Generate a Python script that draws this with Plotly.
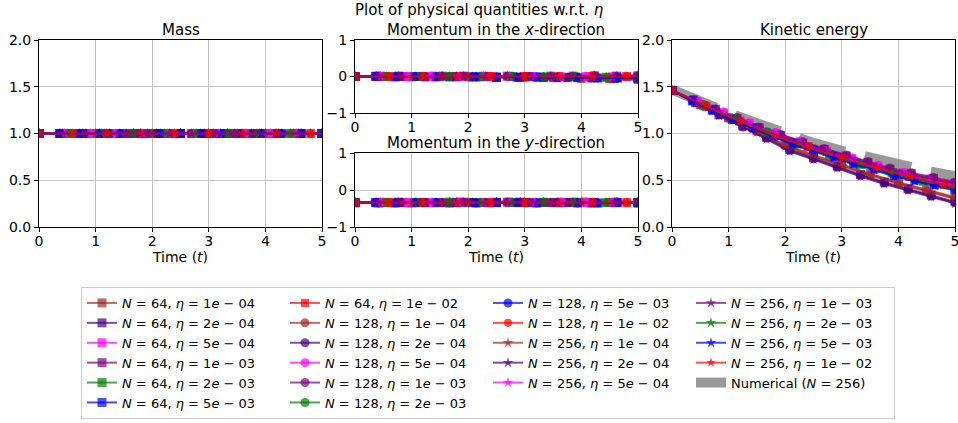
import plotly.graph_objects as go

# ---------------- data ----------------
N_VALUES = [64, 128, 256]
ETA_LABELS = ["1e − 04", "2e − 04", "5e − 04", "1e − 03", "2e − 03", "5e − 03", "1e − 02"]

# time grids (one per eta)
T_E1E4 = [0.0, 0.5, 1.0, 1.5, 2.0, 2.5, 3.0, 3.5, 4.0, 4.5, 5.0]
T_E2E4 = [0.0, 0.42, 0.83, 1.25, 1.67, 2.08, 2.5, 2.92, 3.33, 3.75, 4.17, 4.58, 5.0]
T_E5E4 = [0.0, 0.45, 0.91, 1.36, 1.82, 2.27, 2.73, 3.18, 3.64, 4.09, 4.55, 5.0]
T_E1E3 = [0.0, 0.38, 0.77, 1.15, 1.54, 1.92, 2.31, 2.69, 3.08, 3.46, 3.85, 4.23, 4.62, 5.0]
T_E2E3 = [0.0, 0.56, 1.11, 1.67, 2.22, 2.78, 3.33, 3.89, 4.44, 5.0]
T_E5E3 = [0.0, 0.36, 0.71, 1.07, 1.43, 1.79, 2.14, 2.5, 2.86, 3.21, 3.57, 3.93, 4.29, 4.64, 5.0]
T_E1E2 = [0.0, 0.6, 1.2, 1.8, 2.4, 3.0, 3.6, 4.2, 4.8, 5.0]

# mass (per eta)
MASS_E1E4 = [1.0, 1.0, 1.0, 1.0, 1.0, 1.0, 1.0, 1.0, 1.0, 1.0, 1.0]
MASS_E2E4 = [1.0, 1.0, 1.0, 1.0, 1.0, 1.0, 1.0, 1.0, 1.0, 1.0, 1.0, 1.0, 1.0]
MASS_E5E4 = [1.0, 1.0, 1.0, 1.0, 1.0, 1.0, 1.0, 1.0, 1.0, 1.0, 1.0, 1.0]
MASS_E1E3 = [1.0, 1.0, 1.0, 1.0, 1.0, 1.0, 1.0, 1.0, 1.0, 1.0, 1.0, 1.0, 1.0, 1.0]
MASS_E2E3 = [1.0, 1.0, 1.0, 1.0, 1.0, 1.0, 1.0, 1.0, 1.0, 1.0]
MASS_E5E3 = [1.0, 1.0, 1.0, 1.0, 1.0, 1.0, 1.0, 1.0, 1.0, 1.0, 1.0, 1.0, 1.0, 1.0, 1.0]
MASS_E1E2 = [1.0, 1.0, 1.0, 1.0, 1.0, 1.0, 1.0, 1.0, 1.0, 1.0]

# momentum in x (per eta)
MX_E1E4 = [0.00, 0.00, -0.01, 0.00, -0.01, -0.02, -0.02, -0.03, -0.05, -0.06, -0.08]
MX_E2E4 = [0.00, 0.00, 0.00, -0.01, -0.01, -0.01, -0.02, -0.02, -0.03, -0.03, -0.04, -0.05, -0.05]
MX_E5E4 = [0.00, 0.01, 0.00, 0.01, 0.00, 0.01, 0.00, 0.00, -0.01, 0.00, -0.01, 0.00]
MX_E1E3 = [0.00, 0.01, 0.01, 0.00, 0.01, 0.01, 0.00, 0.01, 0.00, 0.01, 0.01, 0.02, 0.01, 0.02]
MX_E2E3 = [0.00, 0.00, 0.00, 0.00, -0.01, 0.00, -0.01, -0.01, -0.02, -0.02]
MX_E5E3 = [0.00, 0.00, -0.01, 0.00, -0.01, -0.01, -0.01, -0.02, -0.02, -0.02, -0.03, -0.03, -0.04, -0.04, -0.04]
MX_E1E2 = [0.00, 0.00, 0.00, 0.00, 0.00, 0.00, 0.00, 0.00, 0.00, 0.00]

# momentum in y (per eta)
MY_E1E4 = [-0.34, -0.34, -0.35, -0.34, -0.34, -0.33, -0.34, -0.34, -0.33, -0.34, -0.34]
MY_E2E4 = [-0.34, -0.35, -0.34, -0.34, -0.35, -0.34, -0.34, -0.33, -0.34, -0.34, -0.35, -0.34, -0.34]
MY_E5E4 = [-0.34, -0.33, -0.34, -0.34, -0.33, -0.34, -0.33, -0.34, -0.33, -0.33, -0.34, -0.33]
MY_E1E3 = [-0.34, -0.34, -0.33, -0.34, -0.34, -0.33, -0.34, -0.33, -0.34, -0.34, -0.33, -0.34, -0.33, -0.34]
MY_E2E3 = [-0.34, -0.34, -0.34, -0.33, -0.34, -0.34, -0.33, -0.34, -0.34, -0.34]
MY_E5E3 = [-0.34, -0.34, -0.35, -0.34, -0.34, -0.34, -0.35, -0.34, -0.34, -0.35, -0.34, -0.35, -0.35, -0.34, -0.35]
MY_E1E2 = [-0.34, -0.34, -0.34, -0.34, -0.34, -0.34, -0.34, -0.34, -0.34, -0.34]

# kinetic energy (per N and eta)
KE_N64_E1E4 = [1.46, 1.31, 1.17, 1.03, 0.88, 0.77, 0.67, 0.57, 0.48, 0.40, 0.32]
KE_N128_E1E4 = [1.46, 1.31, 1.16, 1.02, 0.87, 0.76, 0.66, 0.56, 0.47, 0.39, 0.31]
KE_N256_E1E4 = [1.46, 1.30, 1.16, 1.01, 0.86, 0.75, 0.65, 0.55, 0.46, 0.38, 0.30]

KE_N64_E2E4 = [1.46, 1.33, 1.20, 1.08, 0.96, 0.83, 0.74, 0.65, 0.56, 0.48, 0.41, 0.34, 0.27]
KE_N128_E2E4 = [1.46, 1.33, 1.20, 1.07, 0.95, 0.82, 0.73, 0.64, 0.55, 0.47, 0.40, 0.33, 0.26]
KE_N256_E2E4 = [1.46, 1.32, 1.19, 1.07, 0.94, 0.81, 0.72, 0.63, 0.54, 0.46, 0.39, 0.32, 0.25]

KE_N64_E5E4 = [1.46, 1.34, 1.22, 1.11, 1.00, 0.91, 0.81, 0.73, 0.65, 0.58, 0.51, 0.46]
KE_N128_E5E4 = [1.46, 1.34, 1.23, 1.11, 1.01, 0.92, 0.82, 0.74, 0.66, 0.58, 0.52, 0.47]
KE_N256_E5E4 = [1.46, 1.34, 1.22, 1.10, 1.00, 0.90, 0.81, 0.72, 0.64, 0.57, 0.50, 0.45]

KE_N64_E1E3 = [1.46, 1.36, 1.26, 1.16, 1.06, 0.98, 0.90, 0.83, 0.76, 0.69, 0.62, 0.57, 0.52, 0.47]
KE_N128_E1E3 = [1.46, 1.36, 1.26, 1.17, 1.07, 0.99, 0.91, 0.84, 0.77, 0.70, 0.63, 0.58, 0.53, 0.48]
KE_N256_E1E3 = [1.46, 1.35, 1.25, 1.15, 1.05, 0.97, 0.89, 0.82, 0.75, 0.68, 0.61, 0.56, 0.51, 0.46]

KE_N64_E2E3 = [1.46, 1.30, 1.15, 1.01, 0.89, 0.77, 0.67, 0.58, 0.49, 0.42]
KE_N128_E2E3 = [1.46, 1.30, 1.16, 1.02, 0.89, 0.78, 0.68, 0.59, 0.50, 0.43]
KE_N256_E2E3 = [1.46, 1.29, 1.15, 1.00, 0.88, 0.77, 0.66, 0.57, 0.49, 0.41]

KE_N64_E5E3 = [1.46, 1.35, 1.25, 1.15, 1.06, 0.97, 0.89, 0.82, 0.75, 0.68, 0.62, 0.55, 0.50, 0.45, 0.40]
KE_N128_E5E3 = [1.46, 1.35, 1.25, 1.15, 1.06, 0.98, 0.90, 0.83, 0.76, 0.69, 0.62, 0.56, 0.51, 0.46, 0.41]
KE_N256_E5E3 = [1.46, 1.35, 1.24, 1.14, 1.05, 0.96, 0.88, 0.81, 0.74, 0.67, 0.61, 0.54, 0.49, 0.44, 0.39]

KE_N64_E1E2 = [1.46, 1.29, 1.13, 0.98, 0.86, 0.74, 0.63, 0.54, 0.46, 0.43]
KE_N128_E1E2 = [1.46, 1.29, 1.13, 0.98, 0.86, 0.74, 0.64, 0.54, 0.46, 0.43]
KE_N256_E1E2 = [1.46, 1.29, 1.13, 0.98, 0.85, 0.74, 0.63, 0.54, 0.45, 0.43]

# numerical reference (N = 256)
T_NUM = [0.0, 0.5, 1.0, 1.5, 2.0, 2.5, 3.0, 3.5, 4.0, 4.5, 5.0]
KE_NUM = [1.47, 1.34, 1.22, 1.11, 1.00, 0.90, 0.815, 0.735, 0.665, 0.60, 0.545]

# ---------------- assembly ----------------
T_BY_ETA = [T_E1E4, T_E2E4, T_E5E4, T_E1E3, T_E2E3, T_E5E3, T_E1E2]
MASS_BY_ETA = [MASS_E1E4, MASS_E2E4, MASS_E5E4, MASS_E1E3, MASS_E2E3, MASS_E5E3, MASS_E1E2]
MX_BY_ETA = [MX_E1E4, MX_E2E4, MX_E5E4, MX_E1E3, MX_E2E3, MX_E5E3, MX_E1E2]
MY_BY_ETA = [MY_E1E4, MY_E2E4, MY_E5E4, MY_E1E3, MY_E2E3, MY_E5E3, MY_E1E2]
KE_BY_N = {
    64: [KE_N64_E1E4, KE_N64_E2E4, KE_N64_E5E4, KE_N64_E1E3, KE_N64_E2E3, KE_N64_E5E3, KE_N64_E1E2],
    128: [KE_N128_E1E4, KE_N128_E2E4, KE_N128_E5E4, KE_N128_E1E3, KE_N128_E2E3, KE_N128_E5E3, KE_N128_E1E2],
    256: [KE_N256_E1E4, KE_N256_E2E4, KE_N256_E5E4, KE_N256_E1E3, KE_N256_E2E3, KE_N256_E5E3, KE_N256_E1E2],
}

ETA_COLORS = [(165, 42, 42), (75, 0, 130), (255, 0, 255), (128, 0, 128),
              (0, 128, 0), (0, 0, 255), (255, 0, 0)]
N_SYMBOLS = {64: "square", 128: "circle", 256: "star"}
N_SIZES = {64: 9, 128: 9, 256: 8}

FONT = "DejaVu Sans"

# subplot domains (paper fractions, margins are zero)
W, H = 958, 423
def xd(a, b):
    return [a / W, b / W]
def yd(top, bottom):
    return [1 - bottom / H, 1 - top / H]

DOM = {
    "mass": (xd(39, 322), yd(40, 227)),
    "mx": (xd(355, 638), yd(40, 113)),
    "my": (xd(355, 638), yd(153, 227)),
    "ke": (xd(672, 955), yd(40, 227)),
}
AX = {"mass": ("x", "y"), "mx": ("x2", "y2"), "my": ("x3", "y3"), "ke": ("x4", "y4")}

fig = go.Figure()

# numerical band first (behind); legend slot: column 4, row 5
fig.add_trace(go.Scatter(
    x=T_NUM, y=KE_NUM, mode="lines", xaxis="x4", yaxis="y4",
    line=dict(color="rgba(128,128,128,0.8)", width=10, dash="48px,20px"),
    name="Numerical (<i>N</i> = 256)", legendrank=19, showlegend=True,
))

idx = 0
for n in N_VALUES:
    for e in range(7):
        r, g, b = ETA_COLORS[e]
        t = T_BY_ETA[e]
        sizes = [N_SIZES[n]] * len(t)
        if e == 6:
            sizes[-1] = 0
        # legend position (matplotlib column-major -> plotly row-major)
        if idx < 6:
            col, row = 0, idx
        elif idx < 12:
            col, row = 1, idx - 6
        elif idx < 17:
            col, row = 2, idx - 12
        else:
            col, row = 3, idx - 17
        rank = row * 4 + col
        name = f"<i>N</i> = {n}, <i>η</i> = {ETA_LABELS[e][0]}<i>e</i> − {ETA_LABELS[e][-2:]}"
        for key, ys in (("mass", MASS_BY_ETA[e]), ("mx", MX_BY_ETA[e]),
                        ("my", MY_BY_ETA[e]), ("ke", KE_BY_N[n][e])):
            xa, ya = AX[key]
            fig.add_trace(go.Scatter(
                x=t, y=ys, mode="lines+markers", xaxis=xa, yaxis=ya,
                line=dict(color=f"rgba({r},{g},{b},0.7)", width=2),
                marker=dict(symbol=N_SYMBOLS[n], size=sizes, color=f"rgb({r},{g},{b})",
                            line=dict(width=0)),
                name=name, legendrank=rank, showlegend=(key == "mass"),
                legendgroup=f"s{idx}",
            ))
        idx += 1

def axis_style(**kw):
    base = dict(showline=True, linecolor="black", linewidth=1, mirror=True,
                ticks="outside", ticklen=4, tickwidth=1, tickcolor="black",
                showgrid=True, gridcolor="#c4c4c4", gridwidth=1, zeroline=False,
                tickfont=dict(family=FONT, size=14, color="black"),
                ticklabeloverflow="allow")
    base.update(kw)
    return base

xtitle = dict(text="Time (<i>t</i>)", font=dict(family=FONT, size=14, color="black"), standoff=0)

layout = dict(
    width=W, height=H, margin=dict(l=0, r=0, t=0, b=0, autoexpand=False),
    paper_bgcolor="white", plot_bgcolor="white",
    font=dict(family=FONT, size=13, color="black"),
    showlegend=True,
    legend=dict(orientation="h", x=81 / W, xanchor="left", y=1 - 287 / H, yanchor="top",
                entrywidth=158, entrywidthmode="pixels",
                bgcolor="white", bordercolor="#cccccc", borderwidth=1,
                font=dict(family=FONT, size=13, color="black"), traceorder="normal"),
)
XS = dict(range=[0, 5], dtick=1, ticklabelstandoff=-3)
layout["xaxis"] = axis_style(domain=DOM["mass"][0], anchor="y", title=xtitle, **XS)
layout["yaxis"] = axis_style(domain=DOM["mass"][1], anchor="x", range=[0, 2], dtick=0.5, tickformat=".1f")
layout["xaxis2"] = axis_style(domain=DOM["mx"][0], anchor="y2", **XS)
layout["yaxis2"] = axis_style(domain=DOM["mx"][1], anchor="x2", range=[-1, 1], tickvals=[-1, 0, 1])
layout["xaxis3"] = axis_style(domain=DOM["my"][0], anchor="y3", title=xtitle, **XS)
layout["yaxis3"] = axis_style(domain=DOM["my"][1], anchor="x3", range=[-1, 1], tickvals=[-1, 0, 1])
layout["xaxis4"] = axis_style(domain=DOM["ke"][0], anchor="y4", title=xtitle, **XS)
layout["yaxis4"] = axis_style(domain=DOM["ke"][1], anchor="x4", range=[0, 2], dtick=0.5, tickformat=".1f")

ann = []
def sub_title(text, key):
    xdom, ydom = DOM[key]
    ann.append(dict(text=text, x=(xdom[0] + xdom[1]) / 2, y=ydom[1], xref="paper", yref="paper",
                    xanchor="center", yanchor="bottom", showarrow=False, yshift=-1,
                    font=dict(family=FONT, size=15, color="black")))

sub_title("Mass", "mass")
sub_title("Momentum in the <i>x</i>-direction", "mx")
sub_title("Momentum in the <i>y</i>-direction", "my")
sub_title("Kinetic energy", "ke")
ann.append(dict(text="Plot of physical quantities w.r.t. <i>η</i>", x=0.5, y=1, xref="paper", yref="paper",
                xanchor="center", yanchor="top", showarrow=False, yshift=1,
                font=dict(family=FONT, size=15, color="black")))
layout["annotations"] = ann

fig.update_layout(**layout)
fig.write_html("out.html", config={"displayModeBar": False},
               post_script="document.body.style.margin='0';document.body.style.overflow='hidden';")
